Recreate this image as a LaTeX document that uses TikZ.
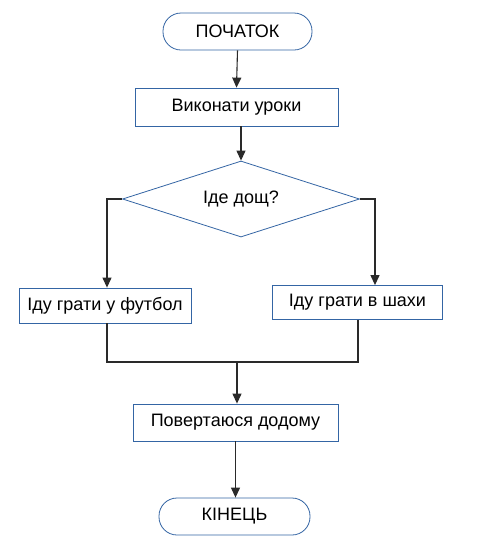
\documentclass[tikz,border=0pt]{standalone}
\usepackage{fontspec}
\setmainfont{Liberation Sans}
\usetikzlibrary{shapes.geometric,arrows.meta}
\definecolor{shapeblue}{HTML}{3465A4}
\definecolor{linegray}{HTML}{2A2A2A}
\tikzset{
  base/.style={draw=shapeblue, line width=0.8pt, fill=white, inner sep=0pt, font=\fontsize{18}{21}\selectfont},
  terminal/.style={base, rectangle, rounded corners=18pt},
  process/.style={base, rectangle},
  decision/.style={base, diamond, aspect=3.12},
  conn/.style={draw=linegray, line width=1.1pt, -{Triangle[length=10pt,width=9pt]}},
  plain/.style={draw=linegray, line width=1.1pt}
}
\begin{document}
\begin{tikzpicture}[x=1pt,y=-1pt]
\useasboundingbox (0,0) rectangle (478,558);
\node[terminal, minimum width=149pt, minimum height=37pt] (start) at (237.5,31.5) {ПОЧАТОК};
\node[process, minimum width=203pt, minimum height=38pt] (do) at (236.5,107) {Виконати уроки};
\node[decision, minimum width=237pt, minimum height=76pt] (dec) at (241,199) {Іде дощ?};
\node[process, minimum width=172pt, minimum height=35pt] (left) at (105,305.5) {Іду грати у футбол};
\node[process, minimum width=170pt, minimum height=34pt] (right) at (357.5,302.5) {Іду грати в шахи};
\node[process, minimum width=205pt, minimum height=37pt] (home) at (235.5,422.5) {Повертаюся додому};
\node[terminal, minimum width=151pt, minimum height=37pt] (end) at (234.5,516.5) {КІНЕЦЬ};
\coordinate (merge) at (237,362);
\draw[conn] (start.south) -- (do.north);
\draw[conn] (do.south -| dec.north) -- (dec.north);
\draw[conn] (dec.west) -| ([xshift=2pt]left.north);
\draw[conn] (dec.east) -| ([xshift=17.5pt]right.north);
\draw[plain] ([xshift=2pt]left.south) |- (merge);
\draw[plain] ([xshift=0.5pt]right.south) |- (merge);
\draw[conn] (merge) -- (merge |- home.north);
\draw[conn] (home.south) -- (home.south |- end.north);
\end{tikzpicture}
\end{document}
